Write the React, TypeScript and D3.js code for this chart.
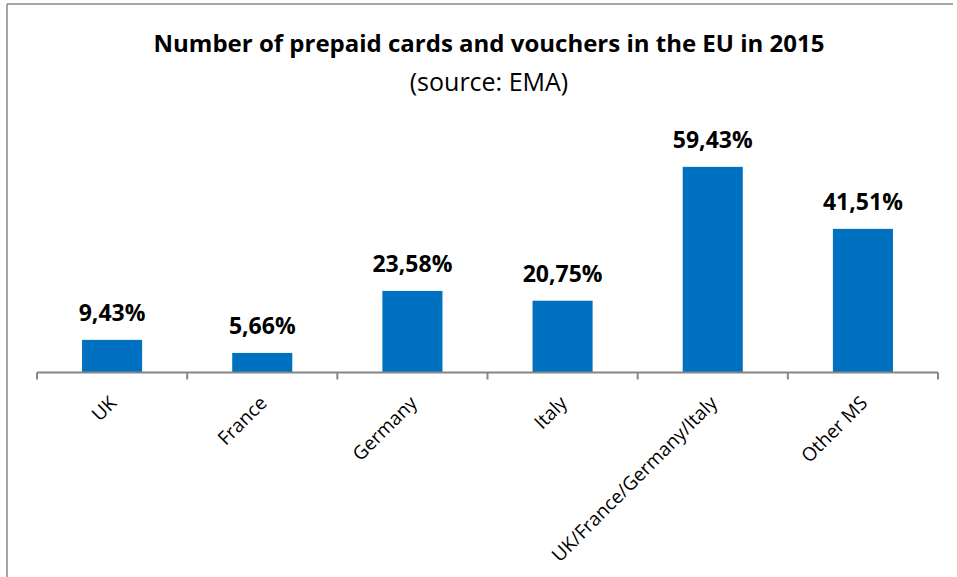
import { useEffect, useRef } from "react";
import * as d3 from "d3";

const categories = ["UK", "France", "Germany", "Italy", "UK/France/Germany/Italy", "Other MS"];
const shares = [9.43, 5.66, 23.58, 20.75, 59.43, 41.51];
const shareLabels = ["9,43%", "5,66%", "23,58%", "20,75%", "59,43%", "41,51%"];

const title = "Number of prepaid cards and vouchers in the EU in 2015";
const subtitle = "(source: EMA)";

const width = 957;
const height = 577;
const marginLeft = 37;
const marginRight = 19;
const axisY = 372.5;
const font = "'Open Sans', 'DejaVu Sans', sans-serif";

export default function App() {
  const gx = useRef<SVGGElement>(null);

  const x = d3
    .scaleBand()
    .domain(categories)
    .range([marginLeft, width - marginRight])
    .paddingInner(0.6)
    .paddingOuter(0.3);
  const y = d3.scaleLinear().domain([0, 70]).range([axisY, axisY - 242.2]);

  useEffect(() => {
    const g = d3.select(gx.current);
    g.selectAll("*").remove();
    const step = x.step();
    const ticks = d3.range(categories.length + 1).map((i) => marginLeft + i * step);
    g.append("line")
      .attr("x1", ticks[0])
      .attr("x2", ticks[ticks.length - 1])
      .attr("y1", axisY)
      .attr("y2", axisY)
      .attr("stroke", "#868686")
      .attr("stroke-width", 2);
    g.selectAll("line.tick")
      .data(ticks)
      .join("line")
      .attr("class", "tick")
      .attr("x1", (d) => d)
      .attr("x2", (d) => d)
      .attr("y1", axisY)
      .attr("y2", axisY + 7)
      .attr("stroke", "#868686")
      .attr("stroke-width", 2);
    g.selectAll("text")
      .data(categories)
      .join("text")
      .attr("transform", (d) => `translate(${x(d)! + x.bandwidth() / 2 + 1},${axisY + 27}) rotate(-45)`)
      .attr("text-anchor", "end")
      .attr("dy", "0.35em")
      .attr("font-family", font)
      .attr("font-size", 19)
      .attr("fill", "#000")
      .text((d) => d);
  }, []);

  return (
    <svg
      width={width}
      height={height}
      style={{ position: "absolute", left: 0, top: 0, background: "#fff" }}
    >
      <rect width={width} height={height} fill="#fff" />
      <line x1={7} x2={953} y1={4} y2={4} stroke="#888" strokeWidth={1.5} />
      <line x1={7} x2={7} y1={4} y2={height} stroke="#888" strokeWidth={1.5} />
      <text x={489} y={52} textAnchor="middle" fontFamily={font} fontWeight="bold" fontSize={24} fill="#000">
        {title}
      </text>
      <text x={489} y={91} textAnchor="middle" fontFamily={font} fontSize={25} fill="#000">
        {subtitle}
      </text>
      {categories.map((c, i) => (
        <rect
          key={c}
          x={x(c)}
          y={y(shares[i])}
          width={x.bandwidth()}
          height={axisY - y(shares[i])}
          fill="#0070C0"
        />
      ))}
      {categories.map((c, i) => (
        <text
          key={c}
          x={x(c)! + x.bandwidth() / 2}
          y={y(shares[i]) - 18.5}
          textAnchor="middle"
          fontFamily={font}
          fontWeight="bold"
          fontSize={23}
          fill="#000"
        >
          {shareLabels[i]}
        </text>
      ))}
      <g ref={gx} />
    </svg>
  );
}
